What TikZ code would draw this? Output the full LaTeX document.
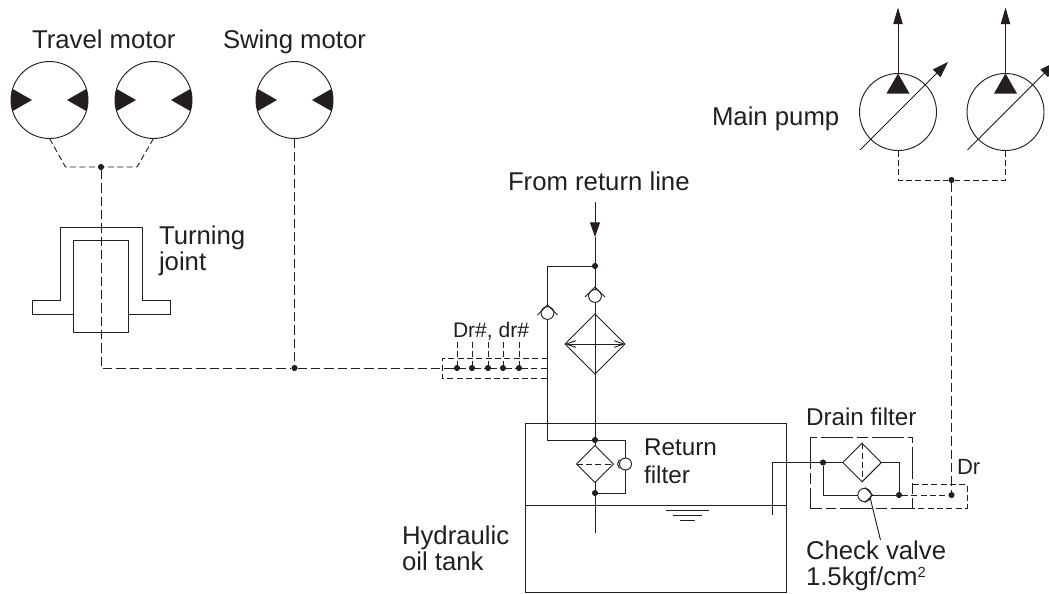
\documentclass[tikz,border=0pt]{standalone}
\usepackage{fontspec}
\setmainfont{Liberation Sans}
\usetikzlibrary{arrows.meta,calc,shapes.geometric}
\definecolor{ink}{HTML}{231F20}
\newcommand{\hydromotor}[1]{%
  \begin{scope}[shift={(#1.center)}]
    \clip (0,0) circle (38.5);
    \fill[ink] (-40,-12.9) -- (-17.5,0) -- (-40,12.9) -- cycle;
    \fill[ink] (40,-12.9) -- (17.5,0) -- (40,12.9) -- cycle;
  \end{scope}}
\newcommand{\pumpsym}[1]{%
  \fill[ink] (#1.north) -- ++(11.5,20) -- ++(-23,0) -- cycle;
  \draw[ln,-{Triangle[length=12pt,width=8pt]}] ($(#1.center)+(-38,38)$) -- ($(#1.center)+(50,-50)$);
  \draw[ln,-{Triangle[length=12.5pt,width=7pt]}] (#1.north) -- ($(#1.north)+(0,-66)$);}
\tikzset{
  ln/.style={draw=ink,line width=0.7pt},
  dsh/.style={draw=ink,line width=0.7pt,dash pattern=on 7pt off 3pt},
  dshs/.style={draw=ink,line width=0.7pt,dash pattern=on 4.5pt off 2.5pt},
  dashdotbox/.style={draw=ink,line width=0.7pt,dash pattern=on 24pt off 3pt on 8pt off 3pt},
  jdot/.style={circle,fill=ink,inner sep=0pt,minimum size=4.6pt,outer sep=0pt},
  machine/.style={circle,draw=ink,line width=0.7pt,fill=white,inner sep=0pt,outer sep=0pt,minimum size=57.75pt},
  ball/.style={circle,draw=ink,line width=0.7pt,fill=white,inner sep=0pt,outer sep=0pt,minimum size=9.6pt},
  filterbox/.style={diamond,draw=ink,line width=0.7pt,inner sep=0pt,outer sep=0pt},
  lbl/.style={inner sep=0pt,outer sep=0pt,anchor=base west,align=left,text=ink,font=\fontsize{19.3}{19}\selectfont},
  lblm/.style={lbl,font=\fontsize{18.2}{21}\selectfont},
  lbls/.style={lbl,font=\fontsize{15.8}{19}\selectfont},
}
\begin{document}
\begin{tikzpicture}[x=0.75pt,y=-0.75pt]
\useasboundingbox (0,0) rectangle (1049,593);
\clip (0,0) rectangle (1049,593);
% --- texts
\node[lbl] (tTravel) at (32,48.5) {Travel motor};
\node[lbl] (tSwing) at (223,48.5) {Swing motor};
\node[lbl] (tMain) at (712,125) {Main pump};
\node[lbl] (tFrom) at (508,190) {From return line};
\node[lbl] (tTurn1) at (159,270) {Turning\\joint};
\node[lblm] (tRet) at (644,483) {Return\\filter};
\node[lbl] (tHyd) at (402,570) {Hydraulic\\oil tank};
\node[lblm] (tDrain) at (806,425) {Drain filter};
\node[lbl] (tCheck) at (806,585) {Check valve\\1.5kgf/cm\raisebox{5.5pt}{\fontsize{11}{11}\selectfont 2}};
\node[lbls] (tDr) at (453,337) {Dr\#, dr\#};
\node[lbl,font=\fontsize{16.5}{19}\selectfont] (tDrr) at (957,474) {Dr};
% --- tank
\draw[ln] (525,423) rectangle (786,592);
\coordinate (wl) at (525,505);
\coordinate (wr) at (786,505);
\draw[ln] (wl) -- (wr);
\coordinate (w1a) at (666,510); \coordinate (w1b) at (709,510);
\coordinate (w2a) at (673,515.5); \coordinate (w2b) at (702,515.5);
\coordinate (w3a) at (680,520); \coordinate (w3b) at (695,520);
\draw[ln] (w1a) -- (w1b) (w2a) -- (w2b) (w3a) -- (w3b);
% --- motors
\node[machine] (m1) at (49.5,100) {};
\node[machine] (m2) at (153.5,100) {};
\node[machine] (m3) at (294.5,100) {};
\hydromotor{m1}\hydromotor{m2}\hydromotor{m3}
\node[jdot] (jT) at (101,167) {};
\coordinate (ta) at (65.5,167);
\coordinate (tb) at (137,167);
\draw[dshs] (m1.south) -- (ta) -- (jT);
\draw[dshs] (m2.south) -- (tb) -- (jT);
% --- turning joint
\coordinate (o1) at (73,314); \coordinate (o2) at (32,314); \coordinate (o3) at (32,300);
\coordinate (o4) at (60,300); \coordinate (o5) at (60,227); \coordinate (o6) at (142.5,227);
\coordinate (o7) at (142.5,300); \coordinate (o8) at (170.5,300); \coordinate (o9) at (170.5,314);
\coordinate (o10) at (128.5,314);
\draw[ln] (o1) -- (o2) -- (o3) -- (o4) -- (o5) -- (o6) -- (o7) -- (o8) -- (o9) -- (o10);
\draw[ln] (73,240.5) rectangle (128.5,332.5);
% --- drain manifold
\node[jdot] (jS) at (294.5,368) {};
\coordinate (c1) at (101,368);
\coordinate (mr) at (547.5,368);
\node[jdot] (d1) at (457,368) {};
\node[jdot] (d2) at (472,368) {};
\node[jdot] (d3) at (488,368) {};
\node[jdot] (d4) at (503,368) {};
\node[jdot] (d5) at (519,368) {};
\draw[dsh] (jT) -- (c1) -- (jS);
\draw[dsh] (m3.south) -- (jS);
\draw[dsh] (jS) -- (d1);
\draw[dshs] (d1) -- (d2) -- (d3) -- (d4) -- (d5) -- (mr);
\foreach \n/\x in {d1/457,d2/472,d3/488,d4/503,d5/519}{
  \coordinate (t\n) at (\x,342);
  \draw[dshs] (t\n) -- (\n);
}
\coordinate (b1) at (547.5,358); \coordinate (b2) at (442,358); \coordinate (b3) at (442,378); \coordinate (b4) at (547.5,378);
\draw[dshs] (b1) -- (b2) -- (b3) -- (b4);
% --- return line
\coordinate (from) at (595,202);
\coordinate (ftip) at (595,237);
\node[jdot] (j1) at (595,266) {};
\node[jdot] (j2) at (595,440) {};
\node[jdot] (j3) at (595,493) {};
\coordinate (k1) at (547.5,266);
\coordinate (k2) at (547.5,440);
\coordinate (tail) at (595,533);
\draw[ln,-{Triangle[length=11pt,width=7.5pt]}] (from) -- (ftip);
\draw[ln] (ftip) -- (j1);
% cooler
\node[filterbox,minimum width=45pt,minimum height=45pt] (cool) at (595,344) {};
\draw[ln] (j1) -- (cool.north);
\draw[ln] (cool.south) -- (j2);
\draw[ln,{Straight Barb[length=7pt,width=5pt]}-{Straight Barb[length=7pt,width=5pt]}] (cool.west) -- (cool.east);
\draw[ln] (cool.north) -- (cool.south);
% by-pass line
\draw[ln] (j1) -- (k1) -- (k2) -- (j2);
% check valves
\node[ball] (cv1) at (595,296) {};
\node[ball] (cv2) at (547.5,313) {};
\draw[ln] (585,297) -- (595,287) -- (605,297);
\draw[ln] (537.5,315) -- (547.5,305) -- (557.5,315);
% return filter
\node[filterbox,minimum width=27.7pt,minimum height=27.7pt] (rf) at (595,464) {};
\draw[ln] (j2) -- (rf.north);
\draw[ln] (rf.south) -- (j3) -- (tail);
\draw[dshs] (rf.west) -- (rf.east);
\node[ball,minimum size=9pt] (cv3) at (625.5,464) {};
\coordinate (r1) at (625.5,440); \coordinate (r2) at (625.5,493);
\draw[ln] (j2) -- (r1) -- (cv3.north);
\draw[ln] (cv3.south) -- (r2) -- (j3);
\draw[ln] (619.5,459.5) -- (617.5,464) -- (619.5,468.5);
% --- drain filter
\node[filterbox,minimum width=29pt,minimum height=29pt] (df) at (862,462.5) {};
\node[jdot] (j4) at (823,462.5) {};
\node[jdot] (j5) at (899,495) {};
\node[jdot] (j6) at (951.5,495) {};
\coordinate (p1) at (772,515); \coordinate (p2) at (772,462.5);
\coordinate (p3) at (823,495); \coordinate (p4) at (899,462.5);
\node[ball,minimum size=10pt] (cv4) at (864.5,495) {};
\draw[ln] (p1) -- (p2) -- (j4) -- (df.west);
\draw[ln] (df.east) -- (p4) -- (j5);
\draw[ln] (j4) -- (p3) -- (cv4.west);
\draw[ln] (cv4.east) -- (j5);
\draw[dshs] (df.north) -- (df.south);
\draw[ln] (865,487.5) -- (872.5,495) -- (865,502.5);
\coordinate (lead) at (880.5,540);
\draw[ln] (cv4.-30) -- (lead);
\draw[dashdotbox] (810,437) rectangle (912.5,508);
\coordinate (e1) at (912.5,484); \coordinate (e2) at (967,484); \coordinate (e3) at (967,508); \coordinate (e4) at (912.5,508);
\draw[dshs] (e1) -- (e2) -- (e3) -- (e4);
\draw[dshs] (j5) -- (j6);
% --- pumps
\node[machine] (p5) at (898,112) {};
\node[machine] (p6) at (1005.5,112) {};
\pumpsym{p5}\pumpsym{p6}
\node[jdot] (jP) at (951.5,180) {};
\coordinate (q1) at (898,180); \coordinate (q2) at (1005.5,180);
\draw[dshs] (p5.south) -- (q1) -- (jP);
\draw[dshs] (p6.south) -- (q2) -- (jP);
\draw[dsh] (jP) -- (j6);
\end{tikzpicture}
\end{document}
